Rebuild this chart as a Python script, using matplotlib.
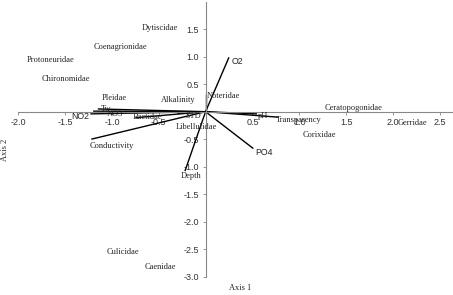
import matplotlib
matplotlib.use("Agg")
import matplotlib.pyplot as plt

plt.rcParams['axes.unicode_minus'] = False

# Species (taxa) scores
taxa_names = ["Dytiscidae", "Coenagrionidae", "Protoneuridae", "Chironomidae", "Pleidae",
              "Noteridae", "Baetidae", "Libellulidae", "Ceratopogonidae", "Gerridae",
              "Corixidae", "Culicidae", "Caenidae"]
taxa_x = [-0.49, -0.91, -1.65, -1.49, -0.97, 0.19, -0.62, -0.10, 1.58, 2.21, 1.21, -0.88, -0.48]
taxa_y = [1.53, 1.17, 0.94, 0.595, 0.255, 0.285, -0.10, -0.28, 0.06, -0.20, -0.42, -2.56, -2.82]

# Environmental vectors (end points)
env_names = ["O2", "Depth", "PO4", "Conductivity", "NO2", "NO3", "Tw", "Alkalinity",
             "STD", "pH", "Transparency", ""]
env_x = [0.25, -0.22, 0.51, -1.22, -1.23, -1.20, -1.15, -0.75, -0.30, 0.55, 0.78, 0.0]
env_y = [0.99, -1.08, -0.67, -0.50, -0.04, 0.01, 0.05, -0.11, -0.03, -0.04, -0.10, 0.33]
# Label anchor points for the vectors
env_lx = [0.28, -0.15, 0.53, -1.00, -1.34, -0.97, -1.06, -0.29, -0.13, 0.61, 1.00, 0.0]
env_ly = [0.91, -1.17, -0.75, -0.62, -0.09, -0.04, 0.04, 0.21, -0.08, -0.07, -0.15, 0.0]
env_font = ["sans", "serif", "sans", "serif", "sans", "serif", "serif", "serif",
            "serif", "serif", "serif", "serif"]

xticks = [-2.0, -1.5, -1.0, -0.5, 0.5, 1.0, 1.5, 2.0, 2.5]
yticks = [-3.0, -2.5, -2.0, -1.5, -1.0, -0.5, 0.5, 1.0, 1.5]

fig = plt.figure(figsize=(4.53, 2.95), dpi=100)
ax = fig.add_axes([0, 0, 1, 1])
ax.set_xlim(-2.194, 2.641)
ax.set_ylim(-3.333, 2.031)

for s in ["top", "right"]:
    ax.spines[s].set_visible(False)
ax.spines["left"].set_position(("data", 0))
ax.spines["bottom"].set_position(("data", 0))
ax.spines["left"].set_bounds(-3.0, 2.0)
ax.spines["bottom"].set_bounds(-2.0, 2.64)
for s in ["left", "bottom"]:
    ax.spines[s].set_color("#888888")
    ax.spines[s].set_linewidth(0.8)

ax.set_xticks(xticks)
ax.set_yticks(yticks)
ax.set_xticklabels([f"{v:.1f}" for v in xticks])
ax.set_yticklabels([f"{v:.1f}" for v in yticks])
ax.tick_params(axis="both", direction="out", length=2.5, width=0.6, color="#888888",
               labelsize=6.5, pad=2, labelcolor="#333333")
for lab in ax.get_xticklabels() + ax.get_yticklabels():
    lab.set_family("Liberation Sans")

# Vectors
for x, y in zip(env_x, env_y):
    ax.plot([0, x], [0, y], color="black", lw=1.0, solid_capstyle="butt")

for name, lx, ly, f in zip(env_names, env_lx, env_ly, env_font):
    if not name:
        continue
    fam = "Liberation Sans" if f == "sans" else "Liberation Serif"
    ax.text(lx, ly, name, fontsize=6.3 if f == "sans" else 6,
            family=fam, ha="left" if name in ("O2", "PO4") else "center",
            va="center", color="#222222")

for name, x, y in zip(taxa_names, taxa_x, taxa_y):
    ax.text(x, y, name, fontsize=6, family="Liberation Serif", ha="center", va="center",
            color="#222222")

fig.text(240 / 453, 1 - 288 / 295, "Axis 1", fontsize=6, family="Liberation Serif",
         ha="center", va="center", color="#222222")
fig.text(5 / 453, 1 - 150 / 295, "Axis 2", fontsize=6, family="Liberation Serif",
         ha="center", va="center", rotation=90, color="#222222")

fig.savefig("out.png", dpi=100)
